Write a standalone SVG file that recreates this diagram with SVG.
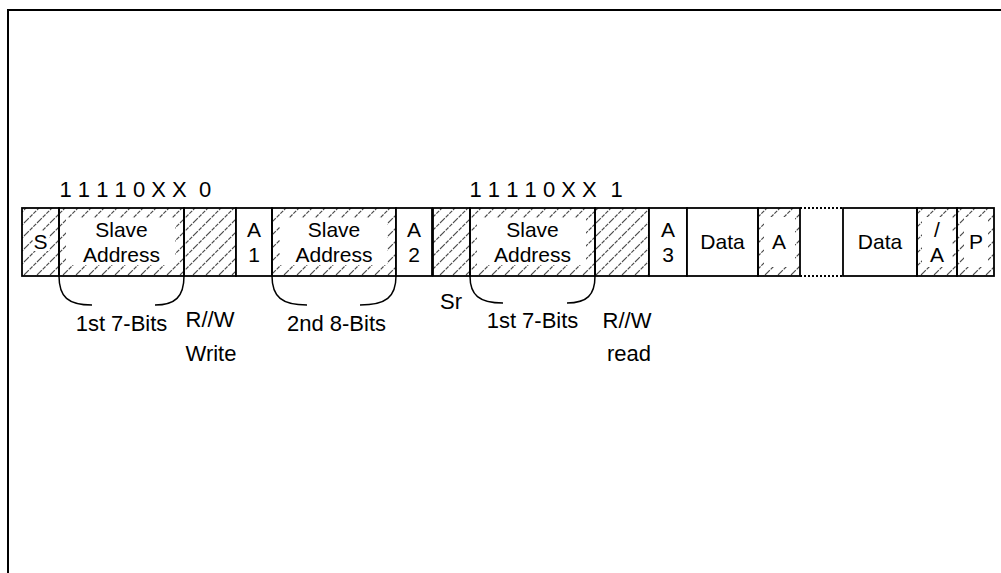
<svg xmlns="http://www.w3.org/2000/svg" width="1001" height="573" viewBox="0 0 1001 573">
<style>
text{font-family:"Liberation Sans",Arial,sans-serif;fill:#000}
.t{font-size:21px;text-anchor:middle}
.l{font-size:22px;text-anchor:middle}
.top{font-size:22px}
.box{stroke:#000;stroke-width:1.8;fill:#fff}
.hb{stroke:#000;stroke-width:1.8;fill:url(#hatch)}
.wb{fill:#fff;stroke:none}
.br{fill:none;stroke:#000;stroke-width:1.5}
.dot{stroke:#000;stroke-width:1.8;stroke-dasharray:2 2}
</style>
<defs>
<pattern id="hatch" patternUnits="userSpaceOnUse" width="13" height="13">
<path d="M-2,2 l4,-4 M0,13 l13,-13 M11,15 l4,-4" stroke="#4a4a4a" stroke-width="1.2" stroke-dasharray="4 1.2"/>
</pattern>
</defs>
<rect width="1001" height="573" fill="#fff"/>
<path d="M8,573 V10 H1001" fill="none" stroke="#000" stroke-width="2"/>

<g id="top-labels">
<text class="top" x="59.5" y="197" xml:space="preserve">1 1 1 1 0 X X</text>
<text class="top" x="199" y="197">0</text>
<text class="top" x="469.5" y="197" xml:space="preserve">1 1 1 1 0 X X</text>
<text class="top" x="610.5" y="197">1</text>
</g>

<g id="node-S">
<rect class="hb" x="22" y="208" width="37" height="68"/>
<rect class="wb" x="33" y="231" width="16" height="20"/>
<text class="t" x="40.5" y="249">S</text>
</g>
<g id="node-addr1">
<rect class="hb" x="59" y="208" width="125" height="68"/>
<rect class="wb" x="66" y="218" width="109" height="47"/>
<text class="t" x="121.5" y="236.5">Slave</text>
<text class="t" x="121.5" y="262">Address</text>
</g>
<g id="node-rw1">
<rect class="hb" x="184" y="208" width="52" height="68"/>
</g>
<g id="node-A1">
<rect class="box" x="236" y="208" width="36" height="68"/>
<text class="t" x="254" y="236.5">A</text>
<text class="t" x="254" y="262">1</text>
</g>
<g id="node-addr2">
<rect class="hb" x="272" y="208" width="124" height="68"/>
<rect class="wb" x="280" y="218" width="107" height="47"/>
<text class="t" x="334" y="236.5">Slave</text>
<text class="t" x="334" y="262">Address</text>
</g>
<g id="node-A2">
<rect class="box" x="396" y="208" width="36" height="68"/>
<text class="t" x="414" y="236.5">A</text>
<text class="t" x="414" y="262">2</text>
</g>
<g id="node-Sr">
<rect class="hb" x="433" y="208" width="37" height="68"/>
</g>
<g id="node-addr3">
<rect class="hb" x="470" y="208" width="125" height="68"/>
<rect class="wb" x="477" y="218" width="109" height="47"/>
<text class="t" x="532.5" y="236.5">Slave</text>
<text class="t" x="532.5" y="262">Address</text>
</g>
<g id="node-rw2">
<rect class="hb" x="595" y="208" width="54" height="68"/>
</g>
<g id="node-A3">
<rect class="box" x="649" y="208" width="38" height="68"/>
<text class="t" x="668" y="236.5">A</text>
<text class="t" x="668" y="262">3</text>
</g>
<g id="node-data1">
<rect class="box" x="687" y="208" width="71" height="68"/>
<text class="t" x="722.5" y="249">Data</text>
</g>
<g id="node-A">
<rect class="hb" x="758" y="208" width="42" height="68"/>
<rect class="wb" x="764" y="217" width="31" height="50"/>
<text class="t" x="779" y="249">A</text>
</g>
<g id="node-gap">
<line class="dot" x1="800" y1="208" x2="843" y2="208"/>
<line class="dot" x1="800" y1="276" x2="843" y2="276"/>
</g>
<g id="node-data2">
<rect class="box" x="843" y="208" width="74" height="68"/>
<text class="t" x="880" y="249">Data</text>
</g>
<g id="node-nA">
<rect class="hb" x="917" y="208" width="40" height="68"/>
<rect class="wb" x="922" y="217" width="30" height="50"/>
<text class="t" x="937" y="236.5">/</text>
<text class="t" x="937" y="262">A</text>
</g>
<g id="node-P">
<rect class="hb" x="957" y="208" width="37" height="68"/>
<rect class="wb" x="964" y="217" width="24" height="50"/>
<text class="t" x="976" y="249">P</text>
</g>

<g id="connectors">
<path class="br" d="M59,276 C59,297 68,305 92,305"/>
<path class="br" d="M184,276 C184,297 175,305 155,305"/>
<path class="br" d="M272,276 C272,297 282,305 307,305"/>
<path class="br" d="M396,276 C396,297 386,305 360,305"/>
<path class="br" d="M470,276 C470,295 479,303 503,303"/>
<path class="br" d="M595,276 C595,295 587,303 567,303"/>
</g>

<g id="bottom-labels">
<text class="l" x="121.5" y="331">1st 7-Bits</text>
<text class="l" x="210" y="327">R//W</text>
<text class="l" x="211" y="361">Write</text>
<text class="l" x="336.5" y="331">2nd 8-Bits</text>
<text class="l" x="451" y="309">Sr</text>
<text class="l" x="532.5" y="327.5">1st 7-Bits</text>
<text class="l" x="627" y="327.5">R//W</text>
<text class="l" x="629" y="361">read</text>
</g>
</svg>
